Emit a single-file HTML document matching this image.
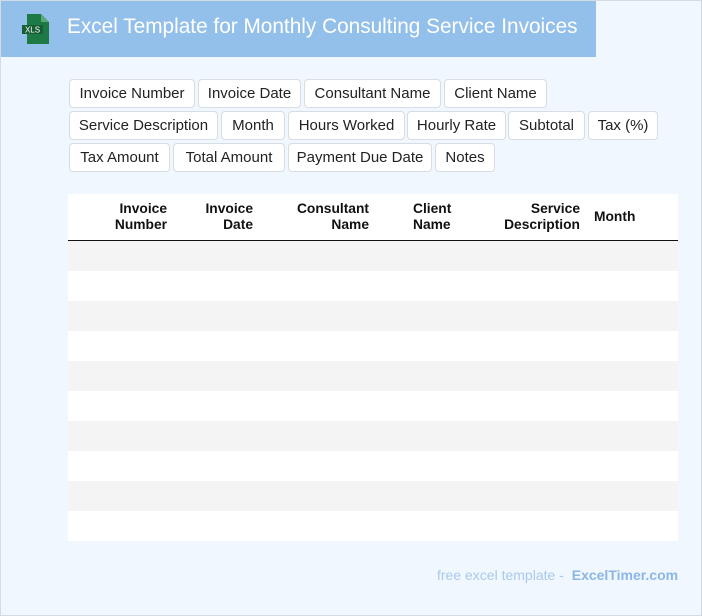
<!DOCTYPE html>
<html><head><style>
*{margin:0;padding:0;box-sizing:border-box}
body{width:702px;height:616px;background:#f0f7ff;font-family:"Liberation Sans",Arial,sans-serif;position:relative;overflow:hidden}
.frame{position:absolute;left:0;top:0;width:702px;height:616px;border:1px solid #d5dbe2}
.hdr{position:absolute;left:1px;top:1px;width:595px;height:56px;background:#93c0ea}
.title{position:absolute;left:67px;top:15px;color:#fff;font-size:20.8px;white-space:nowrap}
.tag{position:absolute;height:29px;background:#fff;border:1px solid #d8dde3;border-radius:4px;font-size:15px;color:#222;line-height:27px;text-align:center;white-space:nowrap}
.tbl{position:absolute;left:68px;top:194px;width:610px;height:347px;background:#fff}
.th{position:absolute;font-size:13.8px;font-weight:bold;color:#111;line-height:16px}
.row{position:absolute;left:68px;width:610px;height:30px}
</style></head><body>
<div class="frame"></div>
<div class="hdr"></div>
<svg style="position:absolute;left:21px;top:14px" width="30" height="30" viewBox="0 0 30 30">
<path d="M6 0h14l8 8v22H6z" fill="#1d7a45"/><path d="M20 0l8 8h-8z" fill="#5aa77a"/>
<rect x="1" y="11" width="21" height="9" fill="#165e35"/>
<text x="11.5" y="18.5" font-size="8" fill="#fff" text-anchor="middle" font-family="Liberation Sans">XLS</text></svg>
<div class="title">Excel Template for Monthly Consulting Service Invoices</div>

<div class="tag" style="left:69px;top:79px;width:126px">Invoice Number</div>
<div class="tag" style="left:198px;top:79px;width:103px">Invoice Date</div>
<div class="tag" style="left:304px;top:79px;width:137px">Consultant Name</div>
<div class="tag" style="left:444px;top:79px;width:103px">Client Name</div>

<div class="tag" style="left:69px;top:111px;width:149px">Service Description</div>
<div class="tag" style="left:221px;top:111px;width:64px">Month</div>
<div class="tag" style="left:288px;top:111px;width:117px">Hours Worked</div>
<div class="tag" style="left:407px;top:111px;width:99px">Hourly Rate</div>
<div class="tag" style="left:508px;top:111px;width:77px">Subtotal</div>
<div class="tag" style="left:588px;top:111px;width:70px">Tax (%)</div>

<div class="tag" style="left:69px;top:143px;width:101px">Tax Amount</div>
<div class="tag" style="left:173px;top:143px;width:112px">Total Amount</div>
<div class="tag" style="left:288px;top:143px;width:144px">Payment Due Date</div>
<div class="tag" style="left:435px;top:143px;width:60px">Notes</div>

<div class="tbl"></div>
<div style="position:absolute;left:68px;top:240px;width:610px;height:1px;background:#111"></div>
<div class="th" style="right:535px;top:201px;text-align:right">Invoice<br>Number</div>
<div class="th" style="right:449px;top:201px;text-align:right">Invoice<br>Date</div>
<div class="th" style="right:333px;top:201px;text-align:right">Consultant<br>Name</div>
<div class="th" style="left:413px;top:201px">Client<br>Name</div>
<div class="th" style="right:122px;top:201px;text-align:right">Service<br>Description</div>
<div class="th" style="left:594px;top:209px">Month</div>

<div class="row" style="top:241px;background:#f4f4f4"></div>
<div class="row" style="top:301px;background:#f4f4f4"></div>
<div class="row" style="top:361px;background:#f4f4f4"></div>
<div class="row" style="top:421px;background:#f4f4f4"></div>
<div class="row" style="top:481px;background:#f4f4f4"></div>

<div style="position:absolute;left:437px;top:567px;font-size:14px;color:#a9c9ec;white-space:nowrap">free excel template - <b style="margin-left:4px;color:#8bb6e6">ExcelTimer.com</b></div>
</body></html>
